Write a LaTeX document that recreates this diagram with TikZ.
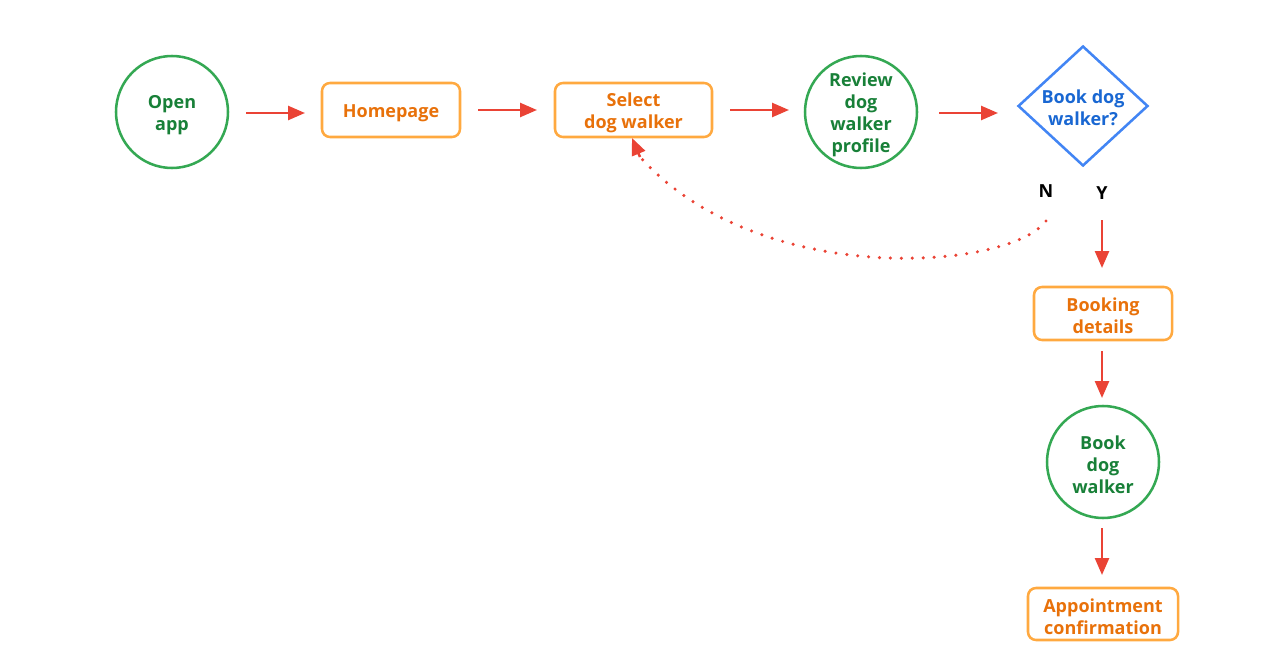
\documentclass[tikz,border=0pt]{standalone}
\usepackage{fontspec}
\setmainfont{Open Sans}
\usetikzlibrary{arrows.meta,shapes.geometric}
\definecolor{gstroke}{HTML}{34A853}
\definecolor{gtext}{HTML}{188038}
\definecolor{ostroke}{HTML}{FFA940}
\definecolor{otext}{HTML}{E8710A}
\definecolor{bstroke}{HTML}{4285F4}
\definecolor{btext}{HTML}{1967D2}
\definecolor{rarrow}{HTML}{EA4335}
\newcommand\tpstrut{\rule{0pt}{14.2pt}}
\tikzset{
  lbl/.style={font=\fontsize{13.5pt}{16.5pt}\selectfont\bfseries, align=center, inner sep=0pt},
  circ/.style={lbl, circle, draw=gstroke, text=gtext, line width=1.9pt, minimum size=84pt},
  rbox/.style={lbl, rectangle, rounded corners=6pt, draw=ostroke, text=otext, line width=1.9pt},
  dec/.style={lbl, diamond, draw=bstroke, text=btext, line width=1.9pt, minimum width=97.5pt, minimum height=90pt, aspect=1.08},
  flow/.style={draw=rarrow, line width=1.9pt, -{Triangle[length=12.75pt,width=10.5pt]}},
  yn/.style={font=\fontsize{13.5pt}{16pt}\selectfont\bfseries, text=black, inner sep=0pt}
}
\begin{document}
\begin{tikzpicture}[x=0.75pt,y=-0.75pt]
\useasboundingbox (0,0) rectangle (1284,656);
\node[circ] (open) at (172,112) {\tpstrut Open\\app};
\node[rbox, minimum width=103.5pt, minimum height=40.5pt] (home) at (391,110) {\tpstrut Homepage};
\node[rbox, minimum width=117.75pt, minimum height=40.5pt] (select) at (633.5,110) {\tpstrut Select\\dog walker};
\node[circ] (review) at (861,112) {\tpstrut Review\\dog\\walker\\profile};
\node[dec] (book) at (1083,106) {\rule{0pt}{12.5pt}Book dog\\walker?};
\node[yn] (n) at (1046,191) {N};
\node[yn] (y) at (1102,193) {Y};
\node[rbox, minimum width=103.5pt, minimum height=39.75pt] (details) at (1103,313.5) {\tpstrut Booking\\details};
\node[circ] (bookw) at (1103,462) {\tpstrut Book\\dog\\walker};
\node[rbox, minimum width=112.5pt, minimum height=39pt] (appt) at (1103,614) {\tpstrut Appointment\\confirmation};

\coordinate (a1s) at (246,113); \coordinate (a1e) at (305,113);
\coordinate (a2s) at (478,110); \coordinate (a2e) at (537,110);
\coordinate (a3s) at (730,110); \coordinate (a3e) at (789,110);
\coordinate (a4s) at (939,113); \coordinate (a4e) at (998,113);
\coordinate (a5s) at (1102,220); \coordinate (a5e) at (1102,268);
\coordinate (a6s) at (1102,351); \coordinate (a6e) at (1102,398);
\coordinate (a7s) at (1102,528); \coordinate (a7e) at (1102,575);
\draw[flow] (a1s) -- (a1e);
\draw[flow] (a2s) -- (a2e);
\draw[flow] (a3s) -- (a3e);
\draw[flow] (a4s) -- (a4e);
\draw[flow] (a5s) -- (a5e);
\draw[flow] (a6s) -- (a6e);
\draw[flow] (a7s) -- (a7e);
\coordinate (ds) at (1046,221);
\coordinate (dc) at (640,157);
\coordinate (de) at (632,138);
\draw[draw=rarrow, line width=2.6pt, line cap=round, dash pattern=on 0pt off 8.2pt]
  (ds) .. controls (1010,270) and (760,290) .. (dc);
\draw[flow] (dc) -- (de);
\end{tikzpicture}
\end{document}
